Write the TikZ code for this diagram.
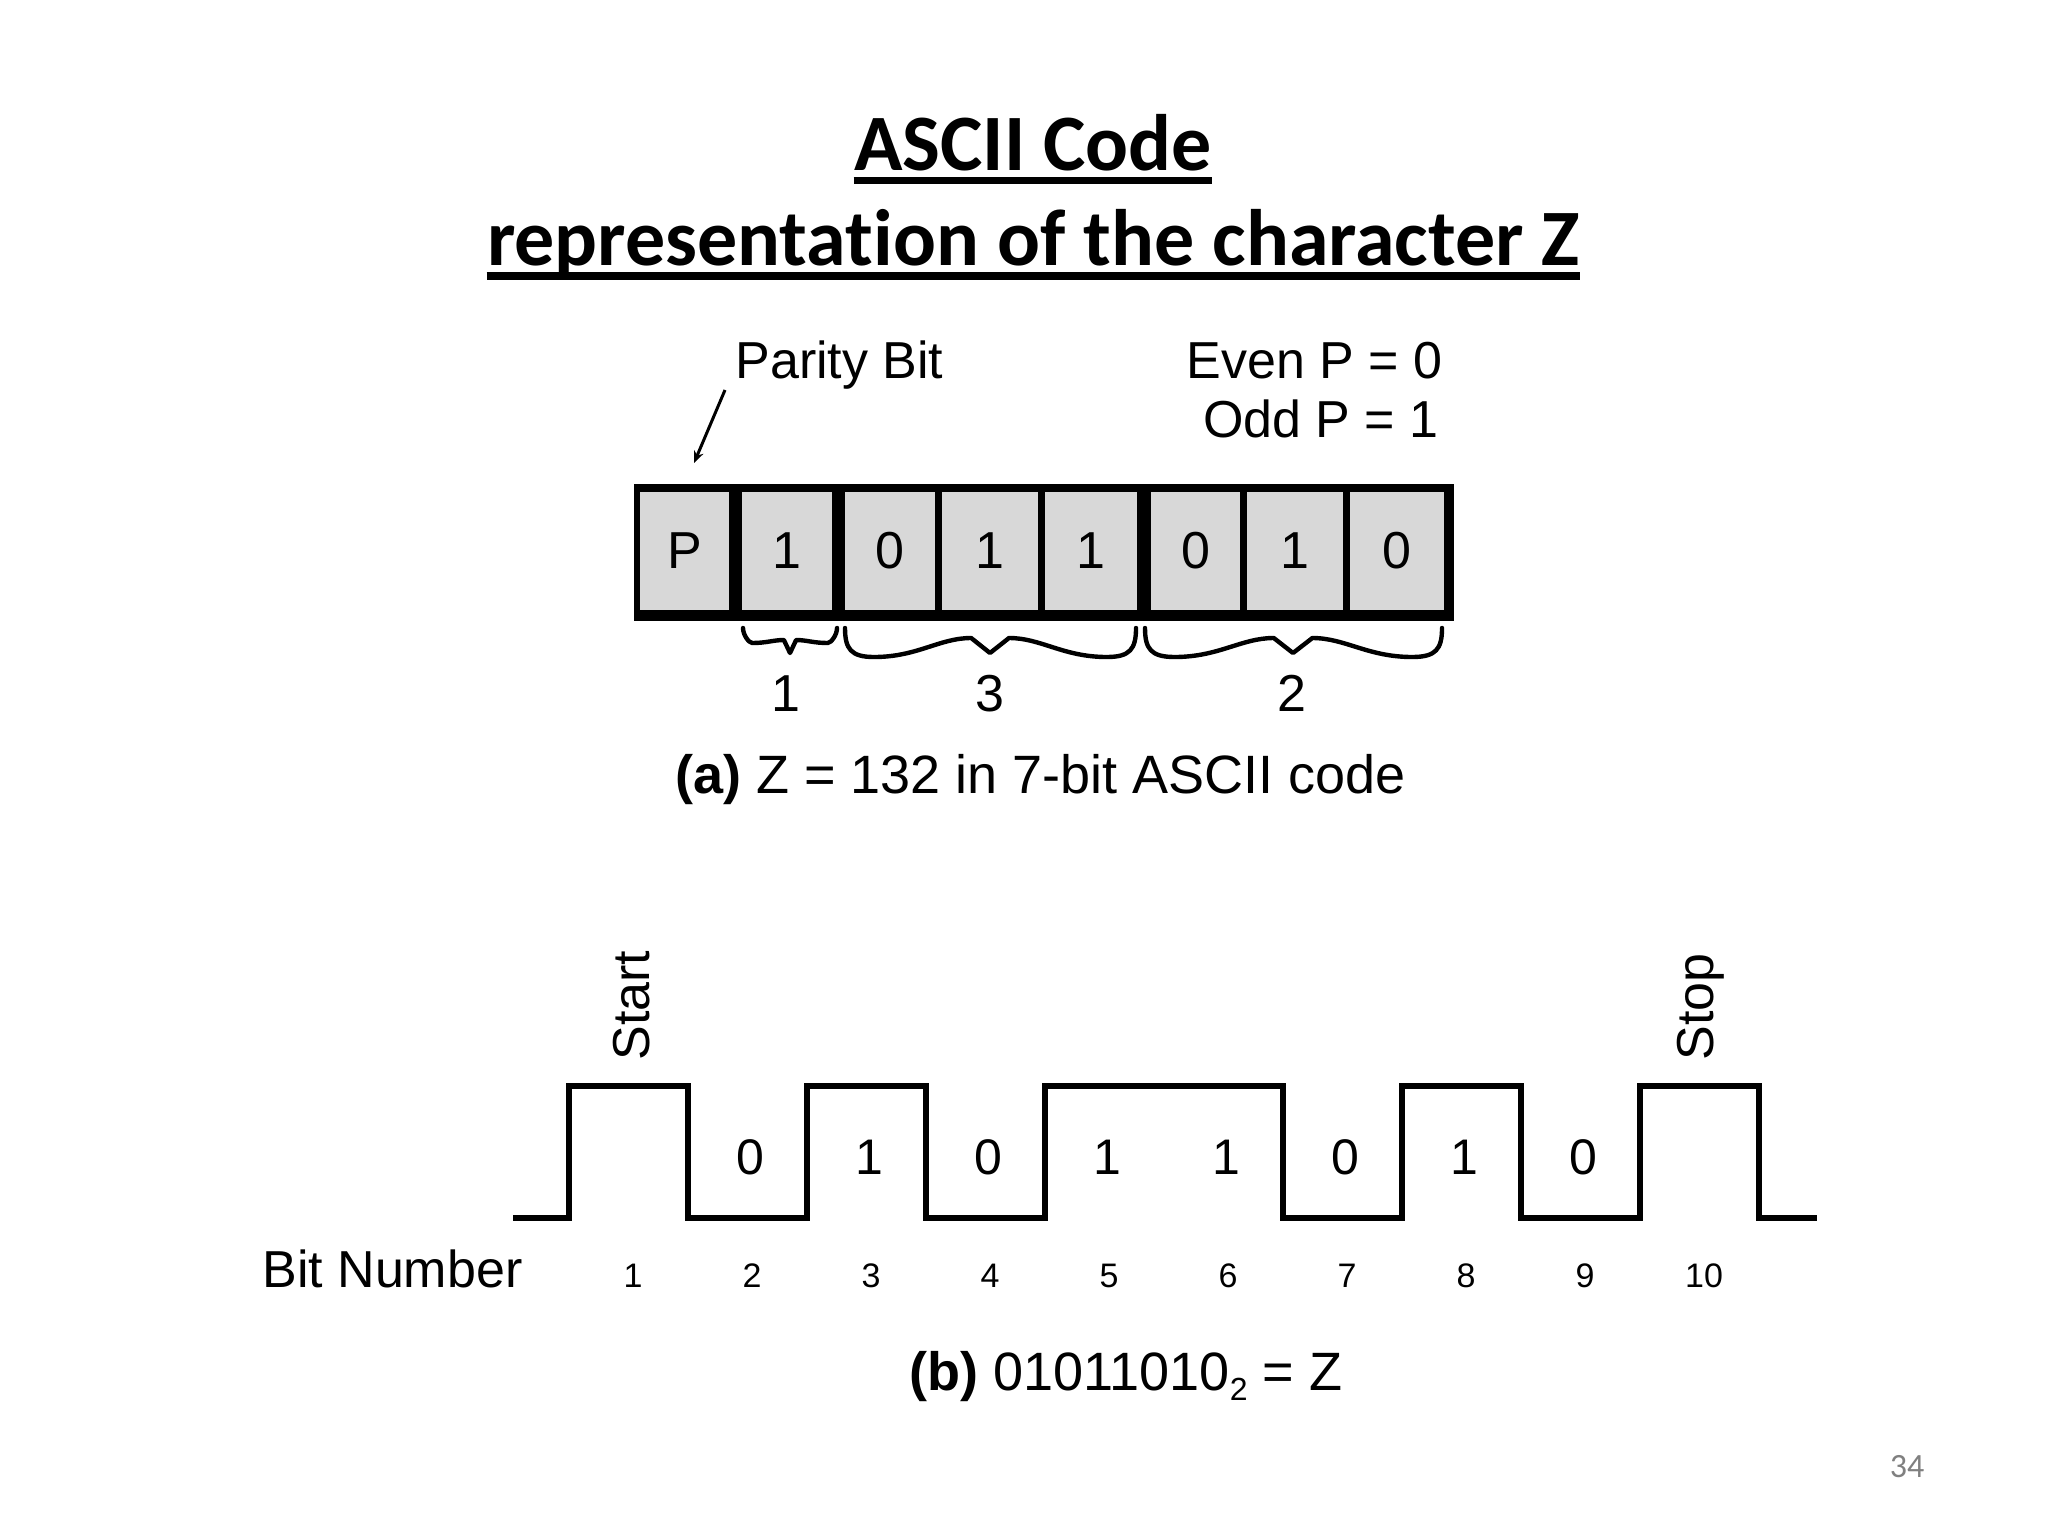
\documentclass[tikz,border=0pt]{standalone}
\usepackage{fontspec}
\setmainfont{Liberation Sans}
\newfontfamily\calibri{Carlito}
\usetikzlibrary{arrows.meta}
\definecolor{cellgray}{RGB}{216,216,216}
\definecolor{pagegray}{RGB}{128,128,128}
\newcommand\wbrace[5]{%
 \draw[brc] (#1,628) .. controls (#1,{#4-8}) and ({#1+6},#4) .. ({#1+0.2*(#3-#1)},#4)
   .. controls ({#1+0.5*(#3-#1)},#4) and ({#1+0.65*(#3-#1)},#5) .. ({#3-0.13*(#3-#1)},#5)
   -- (#3,653) -- ({#3+0.13*(#2-#3)},#5)
   .. controls ({#3+0.35*(#2-#3)},#5) and ({#3+0.5*(#2-#3)},#4) .. ({#2-0.2*(#2-#3)},#4)
   .. controls ({#2-6},#4) and (#2,{#4-8}) .. (#2,628);}
\begin{document}
\begin{tikzpicture}[x=0.5pt,y=-0.5pt,
  title/.style={inner sep=0pt, anchor=base, font=\calibri\bfseries\fontsize{40pt}{48pt}\selectfont},
  lbl/.style={inner sep=0pt, font=\fontsize{26pt}{30pt}\selectfont},
  capt/.style={inner sep=0pt, anchor=base, font=\fontsize{27pt}{32pt}\selectfont},
  cell/.style={lbl, fill=cellgray, minimum height=59pt},
  val/.style={inner sep=0pt, font=\fontsize{25pt}{30pt}\selectfont},
  num/.style={inner sep=0pt, anchor=base, font=\fontsize{17pt}{20pt}\selectfont},
  brc/.style={line width=2.2pt, line join=round, line cap=round},
  wave/.style={line width=3pt, line join=miter},
  uline/.style={line width=3.5pt}]
\useasboundingbox (0,0) rectangle (2048,1536);
\fill[white] (0,0) rectangle (2048,1536);

% Title
\node[title] (t1) at (1033,170) {ASCII Code};
\draw[uline] ([yshift=-5.25pt]t1.base west) -- ([yshift=-5.25pt]t1.base east);
\node[title] (t2) at (1033.5,265) {representat\kern0pt ion of the character Z};
\draw[uline, line width=4pt] ([yshift=-5.5pt]t2.base west) -- ([yshift=-5.5pt]t2.base east);

% (a) part
\node[lbl, anchor=base west] (parity) at (735,378) {Parity Bit};
\node[lbl, anchor=base east] (even) at (1443,378) {Even P = 0};
\node[lbl, anchor=base east] (odd) at (1439,437) {Odd P = 1};
\coordinate (pa1) at (725,390);
\coordinate (pa2) at (694,463);
\draw[line width=1.5pt, -{Stealth[length=6pt,width=5pt]}] (pa1) -- (pa2);

\fill (634,484) rectangle (1454,621);
\foreach \l/\r/\t [count=\i] in {640/729/P, 742/832/1, 845/935/0, 942/1038/1, 1045/1137/1, 1151/1240/0, 1247/1343/1, 1350/1444/0} {
  \node[cell, minimum width={(\r-\l)*0.5pt}] (c\i) at ({(\l+\r)/2},551) {\t};
}

\wbrace{743}{837}{790}{643}{640}
\wbrace{845}{1136}{990}{657}{638}
\wbrace{1145}{1442}{1293}{657}{638}
\node[lbl, anchor=base] (g1) at (786,711) {1};
\node[lbl, anchor=base] (g3) at (990,711) {3};
\node[lbl, anchor=base] (g2) at (1292,711) {2};

\node[capt] (capa) at (1040.5,793) {{\bfseries (a)} Z = 132 in 7-bit ASCII code};

% (b) part
\node[lbl, rotate=90, anchor=base west] (start) at (649,1061) {Start};
\node[lbl, rotate=90, anchor=base west] (stop) at (1713,1061) {Stop};
\draw[wave] (513,1218) -- (569,1218) -- (569,1086) -- (688,1086) -- (688,1218)
  -- (807,1218) -- (807,1086) -- (926,1086) -- (926,1218) -- (1045,1218)
  -- (1045,1086) -- (1283,1086) -- (1283,1218) -- (1402,1218) -- (1402,1086)
  -- (1521,1086) -- (1521,1218) -- (1640,1218) -- (1640,1086) -- (1759,1086)
  -- (1759,1218) -- (1817,1218);
\foreach \v [count=\i from 2] in {0,1,0,1,1,0,1,0}
  \node[val] (v\i) at ({569+119*(\i-1)+62},1157) {\v};
\node[lbl, anchor=base west] (bitnum) at (262,1287) {Bit Number};
\foreach \i in {1,...,10}
  \node[num] (b\i) at ({569+119*(\i-1)+64},1287) {\i};

\node[capt] (capb) at (1126,1390) {{\bfseries (b)} 01011010\raisebox{-5pt}{\fontsize{16pt}{16pt}\selectfont 2} = Z};

\node[inner sep=0pt, anchor=base, text=pagegray, font=\calibri\fontsize{17pt}{20pt}\selectfont] (page) at (1907,1477) {34};
\end{tikzpicture}
\end{document}
